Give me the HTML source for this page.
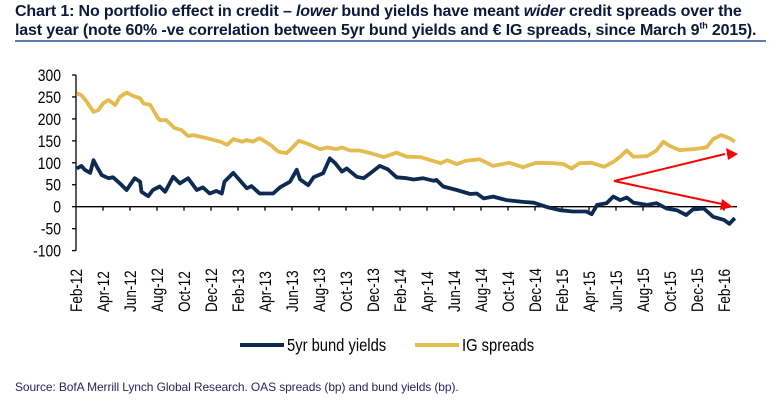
<!DOCTYPE html>
<html><head><meta charset="utf-8"><style>
body{margin:0;background:#fff;width:780px;height:409px;overflow:hidden;font-family:"Liberation Sans",sans-serif}
.title{position:absolute;left:15px;top:3px;width:770px;font-weight:bold;font-size:16px;line-height:18.5px;color:#0b1a3a;letter-spacing:-0.15px;white-space:nowrap}
.rule{position:absolute;left:15px;top:40px;width:751px;height:2px;background:#5b7aae}
.src{position:absolute;left:15px;top:380px;font-size:12px;color:#2d1f5a;letter-spacing:-0.1px}
svg{position:absolute;left:0;top:0}
</style></head><body>
<div class="title">Chart 1: No portfolio effect in credit – <i>lower</i> bund yields have meant <i>wider</i> credit spreads over the<br>last year (note 60% -ve correlation between 5yr bund yields and € IG spreads, since March 9<sup style="font-size:9px;line-height:0">th</sup> 2015).</div>
<div class="rule"></div>
<svg id="chart" width="780" height="409"></svg>
<div class="src">Source: BofA Merrill Lynch Global Research. OAS spreads (bp) and bund yields (bp).</div>
<script>
const xTickLabels=["Feb-12","Apr-12","Jun-12","Aug-12","Oct-12","Dec-12","Feb-13","Apr-13","Jun-13","Aug-13","Oct-13","Dec-13","Feb-14","Apr-14","Jun-14","Aug-14","Oct-14","Dec-14","Feb-15","Apr-15","Jun-15","Aug-15","Oct-15","Dec-15","Feb-16"];
const yTicks=[300,250,200,150,100,50,0,-50,-100];
const igT=[0.05,0.4,0.8,1.3,1.65,2.0,2.4,2.9,3.25,3.75,4.25,4.75,5.0,5.5,6.0,6.2,6.7,7.3,7.8,8.3,8.7,9.7,10.7,11.2,11.65,12.3,12.65,13.1,13.6,14.4,15.0,15.6,16.1,16.5,17.1,18.1,18.6,19.3,19.7,20.3,21.0,21.8,22.8,23.75,24.5,25.5,27.0,27.5,28.2,28.9,29.9,30.9,32.1,33.1,34.1,35.4,36.1,36.7,37.3,38.2,39.1,39.8,40.3,40.8,41.3,42.3,43.0,43.5,44.0,44.7,45.7,46.7,47.2,47.8,48.4,48.8];
const igV=[258,254,239,216,220,235,243,232,250,260,252,247,235,232,205,197,197,179,175,161,163,156,148,141,154,148,152,148,156,141,125,122,137,150,144,131,135,131,135,128,128,122,113,123,114,113,99,106,97,105,108,93,100,90,100,99,97,87,99,100,91,102,114,128,114,115,128,148,138,129,131,135,154,163,156,148];
const bundT=[0.05,0.4,0.65,1.05,1.3,1.55,1.9,2.4,2.75,3.25,3.75,4.35,4.75,4.85,5.35,5.7,6.2,6.6,7.2,7.7,8.3,8.95,9.4,9.9,10.4,10.8,11.0,11.65,12.0,12.65,13.0,13.6,14.6,15.1,15.85,16.35,16.6,17.2,17.6,18.3,18.8,19.2,19.7,20.05,20.8,21.3,21.8,22.5,23.1,23.75,24.5,25.0,25.7,26.5,26.7,27.2,28.2,29.2,29.7,30.2,30.9,31.9,33.1,33.9,34.9,35.85,36.8,37.8,38.2,38.6,39.3,39.8,40.3,40.8,41.3,42.3,43.0,43.75,44.5,45.2,45.7,46.5,47.2,48.0,48.4,48.8];
const bundV=[87,93,84,77,106,91,72,65,67,53,38,65,57,34,24,38,46,34,68,53,65,38,44,30,36,30,57,77,65,42,47,30,30,44,57,84,62,49,67,76,110,99,80,87,68,65,76,93,85,67,65,62,65,59,61,46,38,29,30,19,23,15,11,9,-1,-8,-11,-11,-17,4,8,23,15,21,9,4,8,-4,-8,-19,-6,-4,-23,-30,-39,-26];
const NS="http://www.w3.org/2000/svg";
const svg=document.getElementById('chart');
const X0=76,PXM=13.5,xEnd=737;
const xs=t=>X0+t*PXM;
const ys=v=>206.7-v*0.439;
function mk(tag,attrs){const e=document.createElementNS(NS,tag);for(const k in attrs)e.setAttribute(k,attrs[k]);svg.appendChild(e);return e;}
let ya=mk('line',{x1:X0,x2:X0,y1:ys(300),y2:ys(-100),stroke:'#000','stroke-width':1.3});


yTicks.forEach(v=>{
  let tk=mk('line',{x1:X0-4,x2:X0,y1:ys(v),y2:ys(v),stroke:'#000','stroke-width':1.3});
  
  
  let tx=mk('text',{x:61,y:ys(v)+6,'text-anchor':'end','font-size':17,transform:`translate(61,0) scale(0.82,1) translate(-61,0)`,fill:'#000'});
  tx.textContent=v;
  
  
});
let xa=mk('line',{x1:X0,x2:xEnd,y1:ys(0),y2:ys(0),stroke:'#000','stroke-width':1.3});


xTickLabels.forEach((lab,i)=>{
  const x=xs(i*2);
  if(i>0){let tk=mk('line',{x1:x,x2:x,y1:ys(0),y2:ys(0)+4,stroke:'#000','stroke-width':1.3});
  
  }
  let tx=mk('text',{x:0,y:0,'text-anchor':'start','font-size':17,fill:'#000',transform:`translate(${x+6},${312}) rotate(-90) scale(0.8,1)`});
  tx.textContent=lab;
  
  
});
function series(T,V,col,name){
  let d=T.map((t,i)=>(i?'L':'M')+xs(t).toFixed(1)+','+ys(V[i]).toFixed(1)).join('');
  let p=mk('path',{d:d,fill:'none',stroke:col,'stroke-width':3.8,'stroke-linejoin':'round'});
  
  
}
series(igT,igV,'#e3bb4f','ig-spreads-line');
series(bundT,bundV,'#0c2a52','bund-yields-line');
let a1=mk('path',{d:'M614,181 L725,154',stroke:'#f00','stroke-width':2,fill:'none'});


let h1=mk('polygon',{points:'738,154 726,148 728,160',fill:'#f00'});


let a2=mk('path',{d:'M614,181 L722,204',stroke:'#f00','stroke-width':2,fill:'none'});


let h2=mk('polygon',{points:'733,207 722,199 720,210',fill:'#f00'});


let l1=mk('line',{x1:240,x2:284,y1:345,y2:345,stroke:'#0c2a52','stroke-width':4});


let t1=mk('text',{x:0,y:0,'font-size':18,fill:'#000',transform:'translate(287,351) scale(0.82,1)'});
t1.textContent='5yr bund yields';


let l2=mk('line',{x1:415,x2:459,y1:345,y2:345,stroke:'#e3bb4f','stroke-width':4});


let t2=mk('text',{x:0,y:0,'font-size':18,fill:'#000',transform:'translate(462,351) scale(0.82,1)'});
t2.textContent='IG spreads';


</script>
</body></html>
